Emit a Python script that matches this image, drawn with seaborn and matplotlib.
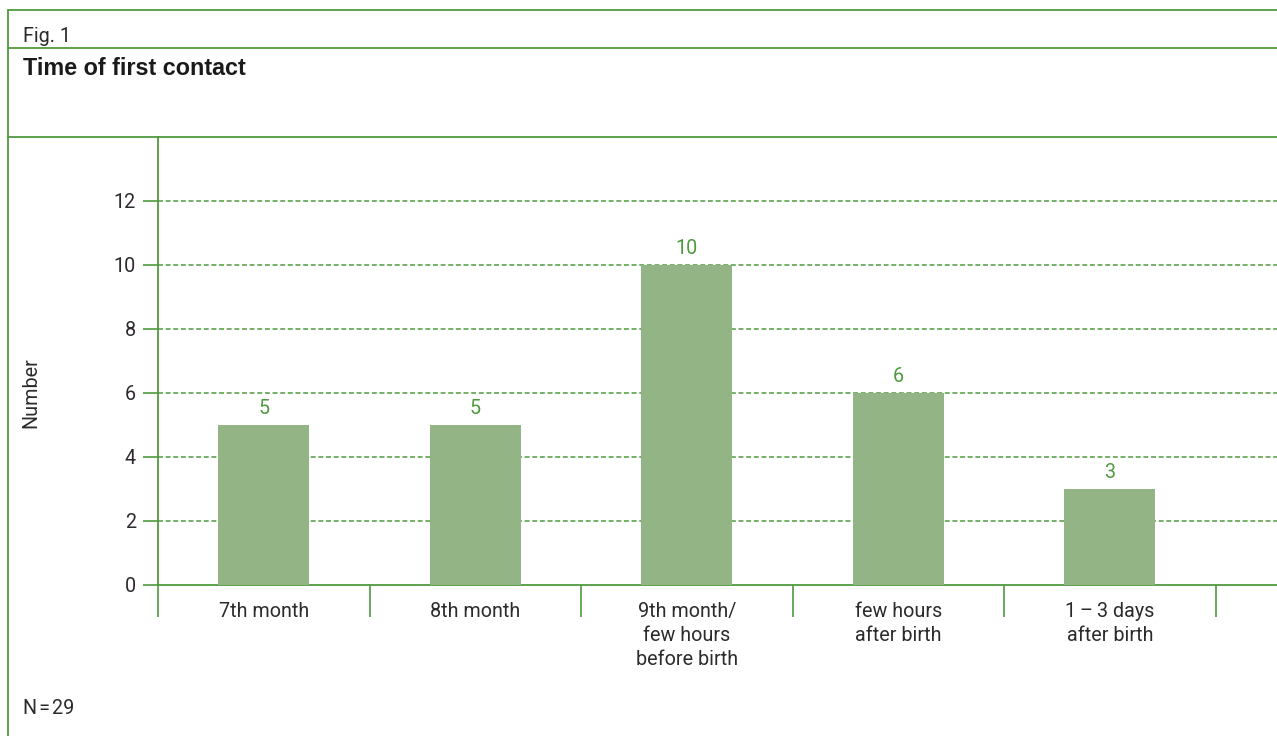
import matplotlib
matplotlib.use("Agg")
import matplotlib.pyplot as plt
from matplotlib.lines import Line2D
import seaborn as sns
import pandas as pd

categories = ["7th month", "8th month", "9th month/\nfew hours\nbefore birth",
              "few hours\nafter birth", "1\u2009\u2013\u20093 days\nafter birth"]
values = [5, 5, 10, 6, 3]
y_ticks = [0, 2, 4, 6, 8, 10, 12]

GREEN = "#4f9a3f"
BAR = "#93b585"
TEXT = "#2b2b2b"
FS = 14.2

sns.set_theme(style="white")
plt.rcParams["font.family"] = ["Roboto", "DejaVu Sans"]

W, H = 1277, 736
fig = plt.figure(figsize=(W / 100, H / 100), dpi=100)

left, right = 158 / W, 1277 / W
bottom, top = (H - 585) / H, (H - 137) / H
ax = fig.add_axes([left, bottom, right - left, top - bottom])

df = pd.DataFrame({"cat": categories, "val": values})
sns.barplot(data=df, x="cat", y="val", color=BAR, width=0.43, saturation=1,
            linewidth=0, edgecolor="none", ax=ax, zorder=3)

ax.set_ylim(0, 14)
ax.set_xlim(-0.5, 4.79)
ax.set_yticks(y_ticks)
ax.set_yticklabels([str(t) for t in y_ticks], color=TEXT, fontsize=FS)
ax.tick_params(axis="y", length=11, width=1.2, color=GREEN, pad=5, left=True)

# category labels and boundary ticks
ax.set_xticks(range(len(categories)))
ax.set_xticklabels(categories, color=TEXT, fontsize=FS, linespacing=1.34)
ax.tick_params(axis="x", which="major", length=0, pad=12)
ax.set_xticks([i - 0.5 for i in range(len(categories) + 1)], minor=True)
ax.tick_params(axis="x", which="minor", length=23, width=1.2, color=GREEN,
               bottom=True, direction="out")

for t in y_ticks[1:]:
    ax.axhline(t, color=GREEN, lw=1.1, ls=(0, (3.2, 1.8)), zorder=1)

for s in ["top", "right"]:
    ax.spines[s].set_visible(False)
for s in ["left", "bottom"]:
    ax.spines[s].set_color(GREEN)
    ax.spines[s].set_linewidth(1.3)

ax.set_xlabel("")
ax.set_ylabel("")

for i, v in enumerate(values):
    ax.annotate(str(v), (i, v), xytext=(0, 5), textcoords="offset points",
                ha="center", va="bottom", color=GREEN, fontsize=FS)

# frame lines
def fx(x):
    return x / W

def fy(y):
    return 1 - y / H

lw = 1.3
fig.add_artist(Line2D([fx(8), fx(8)], [fy(10), fy(736)], color=GREEN, lw=lw))
for yy in (10, 48, 137):
    fig.add_artist(Line2D([fx(8), 1], [fy(yy), fy(yy)], color=GREEN, lw=lw))

fig.text(fx(23), fy(42), "Fig. 1", fontsize=FS, color=TEXT, va="baseline")
fig.text(fx(23), fy(75), "Time of first contact", fontsize=16.8, color="#1a1a1a",
         va="baseline", fontweight="bold", family=["Liberation Sans", "DejaVu Sans"])
fig.text(fx(31), fy(393), "Number", rotation=90, fontsize=FS, color=TEXT,
         ha="center", va="center")
fig.text(fx(23), fy(714), "N\u200a=\u200a29", fontsize=FS, color=TEXT, va="baseline")

fig.savefig("out.png", dpi=100)
